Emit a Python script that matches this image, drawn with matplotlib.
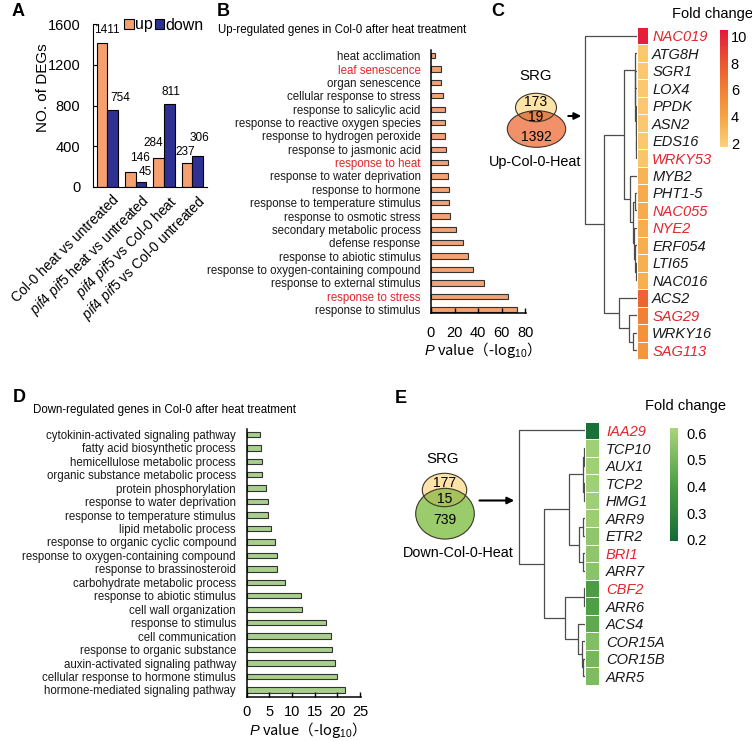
import numpy as np
import matplotlib
matplotlib.use('Agg')
import matplotlib.pyplot as plt
from matplotlib.patches import Ellipse
from matplotlib.colors import LinearSegmentedColormap, Normalize
from matplotlib.cm import ScalarMappable
from matplotlib.transforms import ScaledTranslation

plt.rcParams['font.family'] = ['Liberation Sans', 'DejaVu Sans']
plt.rcParams['mathtext.fontset'] = 'custom'
plt.rcParams['mathtext.rm'] = 'Liberation Sans'
plt.rcParams['mathtext.it'] = 'Liberation Sans:italic'

# ---- data ----
deg_groups = ['Col-0 heat vs untreated',
              r'$\it{pif4\ pif5}$ heat vs untreated',
              r'$\it{pif4\ pif5}$ vs Col-0 heat',
              r'$\it{pif4\ pif5}$ vs Col-0 untreated']
deg_up = [1411, 146, 284, 237]
deg_down = [754, 45, 811, 306]

up_terms = ['heat acclimation', 'leaf senescence', 'organ senescence',
            'cellular response to stress', 'response to salicylic acid',
            'response to reactive oxygen species', 'response to hydrogen peroxide',
            'response to jasmonic acid', 'response to heat',
            'response to water deprivation', 'response to hormone',
            'response to temperature stimulus', 'response to osmotic stress',
            'secondary metabolic process', 'defense response',
            'response to abiotic stimulus', 'response to oxygen-containing compound',
            'response to external stimulus', 'response to stress',
            'response to stimulus']
up_pvals = [3.4, 8.6, 8.6, 10, 11.8, 11.8, 12, 12.6, 14.6, 14.6, 15.5, 15.5,
            16, 21.5, 27, 31.5, 36, 45, 65.5, 73]
up_red = ['leaf senescence', 'response to heat', 'response to stress']

down_terms = ['cytokinin-activated signaling pathway', 'fatty acid biosynthetic process',
              'hemicellulose metabolic process', 'organic substance metabolic process',
              'protein phosphorylation', 'response to water deprivation',
              'response to temperature stimulus', 'lipid metabolic process',
              'response to organic cyclic compound', 'response to oxygen-containing compound',
              'response to brassinosteroid', 'carbohydrate metabolic process',
              'response to abiotic stimulus', 'cell wall organization',
              'response to stimulus', 'cell communication',
              'response to organic substance', 'auxin-activated signaling pathway',
              'cellular response to hormone stimulus', 'hormone-mediated signaling pathway']
down_pvals = [3.0, 3.2, 3.4, 3.4, 4.4, 4.7, 4.8, 5.3, 6.3, 6.7, 6.8, 8.5,
              11.9, 12.3, 17.4, 18.5, 18.9, 19.5, 19.9, 21.6]

c_genes = ['NAC019', 'ATG8H', 'SGR1', 'LOX4', 'PPDK', 'ASN2', 'EDS16', 'WRKY53',
           'MYB2', 'PHT1-5', 'NAC055', 'NYE2', 'ERF054', 'LTI65', 'NAC016',
           'ACS2', 'SAG29', 'WRKY16', 'SAG113']
c_fold = [10.2, 2.2, 2.2, 2.2, 2.2, 2.2, 2.2, 2.3, 3.2, 3.6, 3.6, 3.5, 3.5, 3.4,
          3.4, 7.4, 5.9, 5.0, 4.8]
c_red = ['NAC019', 'WRKY53', 'NAC055', 'NYE2', 'SAG29', 'SAG113']
# clustering tree: (height, left, right), leaves are row indices
c_tree = (1.0, 0,
          (0.63,
           (0.25,
            (0.04, 1, (0.035, 2, (0.03, 3, (0.025, 4, (0.02, 5, (0.015, 6, 7)))))),
            (0.14, 8, (0.08, (0.03, 9, 10), (0.06, 11, (0.04, 12, (0.02, 13, 14)))))),
           (0.35, 15, (0.16, 16, (0.08, 17, 18)))))

e_genes = ['IAA29', 'TCP10', 'AUX1', 'TCP2', 'HMG1', 'ARR9', 'ETR2', 'BRI1',
           'ARR7', 'CBF2', 'ARR6', 'ACS4', 'COR15A', 'COR15B', 'ARR5']
e_fold = [0.22, 0.6, 0.6, 0.6, 0.6, 0.59, 0.56, 0.56, 0.55, 0.40, 0.41, 0.45,
          0.53, 0.50, 0.52]
e_red = ['IAA29', 'BRI1', 'CBF2']
e_tree = (1.0, 0,
          (0.62,
           (0.24, (0.03, (0.02, 1, 2), (0.02, 3, 4)), (0.09, (0.03, 5, 6), (0.03, 7, 8))),
           (0.30, (0.02, 9, 10), (0.11, 11, (0.05, 12, (0.03, 13, 14))))))

venn_up = [173, 19, 1392]
venn_down = [177, 15, 739]

RED = '#E3242B'
W, H = 752, 741


def rect(x0, y0, x1, y1):
    # pixel box (top-left origin) -> figure fraction
    return [x0 / W, 1 - y1 / H, (x1 - x0) / W, (y1 - y0) / H]


def draw_tree(ax, node):
    if isinstance(node, int):
        return node + 0.5, 0.0
    h, a, b = node
    pa, ha = draw_tree(ax, a)
    pb, hb = draw_tree(ax, b)
    ax.plot([ha, h, h, hb], [pa, pa, pb, pb], color='#4d4d4d', lw=0.9,
            solid_capstyle='butt', clip_on=False)
    return (pa + pb) / 2, h


def venn(ax, top, bot, cols, counts, count_pos):
    b = Ellipse(bot[:2], bot[2], bot[3], fc=cols[2], ec='none')
    t = Ellipse(top[:2], top[2], top[3], fc=cols[0], ec='none')
    i = Ellipse(top[:2], top[2], top[3], fc=cols[1], ec='none')
    for p in (b, t, i):
        ax.add_patch(p)
    i.set_clip_path(b)
    ax.add_patch(Ellipse(bot[:2], bot[2], bot[3], fc='none', ec='#3d3526', lw=0.8))
    ax.add_patch(Ellipse(top[:2], top[2], top[3], fc='none', ec='#3d3526', lw=0.8))
    for c, (x, y) in zip(counts, count_pos):
        ax.text(x, y, str(c), ha='center', va='center', fontsize=10)


def go_panel(ax, terms, vals, color, red, xmax, xticks, ylim, xpad):
    pos = np.arange(len(terms))
    ax.barh(pos, vals, height=0.4, color=color, edgecolor='#333333', lw=0.8)
    ax.set_ylim(*ylim)
    ax.set_xlim(0, xmax)
    ax.set_yticks(pos)
    ax.set_yticklabels(terms)
    for lab in ax.get_yticklabels():
        lab.set_color(RED if lab.get_text() in red else '#1a1a1a')
    ax.tick_params(axis='y', length=0, pad=7.5, labelsize=8.3)
    ax.set_xticks(xticks)
    ax.tick_params(axis='x', direction='in', length=3.5, width=1, pad=xpad, labelsize=10.5)
    for s in ['top', 'right']:
        ax.spines[s].set_visible(False)
    for s in ['left', 'bottom']:
        ax.spines[s].set_linewidth(1.1)
    ax.set_xlabel(r'$\it{P}$ value（-log$_{10}$）', fontsize=10.5,
                  fontfamily='Noto Sans CJK SC')
    ax.xaxis.label.set_va('center')


def heat_panel(fig, dend_box, heat_box, cbar_box, genes, fold, red, tree, cmap, norm,
               cticks, label_pad, cbar_pad):
    n = len(genes)
    axd = fig.add_axes(rect(*dend_box))
    axd.axis('off')
    axd.set_xlim(1.0, 0)
    axd.set_ylim(n, 0)
    draw_tree(axd, tree)
    axh = fig.add_axes(rect(*heat_box))
    axh.pcolormesh(np.array(fold)[:, None], cmap=cmap, norm=norm,
                   edgecolors='white', linewidth=0.6)
    axh.set_ylim(n, 0)
    axh.set_xticks([])
    axh.set_yticks(np.arange(n) + 0.5)
    axh.set_yticklabels(genes, fontstyle='italic', fontsize=10.5)
    axh.yaxis.tick_right()
    axh.tick_params(axis='y', length=0, pad=label_pad)
    for lab in axh.get_yticklabels():
        lab.set_color(RED if lab.get_text() in red else '#1a1a1a')
    for s in axh.spines.values():
        s.set_visible(False)
    cax = fig.add_axes(rect(*cbar_box))
    cb = fig.colorbar(ScalarMappable(norm=norm, cmap=cmap), cax=cax, ticks=cticks)
    cb.outline.set_visible(False)
    cax.tick_params(length=0, pad=cbar_pad, labelsize=10.5)


fig = plt.figure(figsize=(7.52, 7.41), dpi=100)

# overlay (on top) for letters, venn diagrams, arrows
ov = fig.add_axes([0, 0, 1, 1], zorder=10)
ov.set_xlim(0, W)
ov.set_ylim(H, 0)
ov.axis('off')
for letter, (x, y) in zip('ABCDE', [(18.5, 12), (223.5, 11), (498, 11), (19, 397), (400.5, 398.5)]):
    ov.text(x, y, letter, fontsize=13, fontweight='bold', ha='center', va='center')

# ---- A ----
axA = fig.add_axes(rect(93, 24, 207, 187))
x = np.arange(len(deg_groups))
w = 0.375
b_up = axA.bar(x - w / 2, deg_up, w, color='#F5A06E', edgecolor='black', lw=0.8, label='up')
b_dn = axA.bar(x + w / 2, deg_down, w, color='#2E3192', edgecolor='black', lw=0.8, label='down')
axA.set_xlim(-0.5, 3.52)
axA.set_ylim(0, 1600)
axA.set_yticks(range(0, 1601, 400))
axA.tick_params(axis='y', direction='in', length=3, pad=9, labelsize=10.5)
axA.tick_params(axis='x', length=0, pad=4)
axA.set_xticks(x)
axA.set_xticklabels(deg_groups, rotation=45, ha='right', va='top',
                    rotation_mode='anchor', fontsize=10)
for lab in axA.get_xticklabels():
    lab.set_transform(lab.get_transform() + ScaledTranslation(0.045, 0, fig.dpi_scale_trans))
for s in ['top', 'right']:
    axA.spines[s].set_visible(False)
axA.set_ylabel('NO. of DEGs', fontsize=11)
axA.yaxis.set_label_coords(-0.38, (187 - 88) / 163)
up_off = [(4.5, 13), (9.7, 14), (-5, 15), (-1.5, 11)]
dn_off = [(7.5, 12), (4, 10), (1.5, 12), (2, 18)]
for bars, offs in ((b_up, up_off), (b_dn, dn_off)):
    for bar, (dx, dy) in zip(bars, offs):
        axA.annotate(str(int(bar.get_height())),
                     (bar.get_x() + bar.get_width() / 2, bar.get_height()),
                     xytext=(dx * 0.72, dy * 0.72), textcoords='offset points',
                     ha='center', va='center', fontsize=8.5)
fig.legend(handles=[b_up, b_dn], labels=['up', 'down'], loc='center left',
           bbox_to_anchor=(124 / W, 1 - 25 / H), ncol=2, frameon=False,
           fontsize=11.5, handlelength=0.6, handleheight=0.6, handletextpad=0.1,
           columnspacing=0.1, borderpad=0, borderaxespad=0)

# ---- B ----
axB = fig.add_axes(rect(431, 50, 525.7, 313.3))
go_panel(axB, up_terms, up_pvals, '#F2A273', up_red, 80.5, [0, 20, 40, 60, 80],
         (len(up_terms) - 1 + 0.28, -0.43), 9)
axB.xaxis.set_label_coords(0.5, (313.3 - 350) / 263.3)
ov.text(218, 30, 'Up-regulated genes in Col-0 after heat treatment', fontsize=8.3,
        ha='left', va='center')

# ---- D ----
axD = fig.add_axes(rect(246.5, 429, 361, 696.7))
go_panel(axD, down_terms, down_pvals, '#A9CF8C', [], 25.2, [0, 5, 10, 15, 20, 25],
         (len(down_terms) - 0.5, -0.4), 6)
axD.xaxis.set_label_coords(0.5, (696.7 - 730) / 267.7)
ov.text(33, 410, 'Down-regulated genes in Col-0 after heat treatment', fontsize=8.3,
        ha='left', va='center')

# ---- C ----
cmap_c = LinearSegmentedColormap.from_list(
    'fc_up', ['#FAD27A', '#F5A646', '#F07E33', '#EA5230', '#E3183C'])
heat_panel(fig, (585, 27, 637, 359), (636.5, 27, 648, 359), (720, 30, 728, 147),
           c_genes, c_fold, c_red, c_tree, cmap_c, Normalize(1.7, 10.5),
           [2, 4, 6, 8, 10], 3, 2)
ov.text(672, 14, 'Fold change', fontsize=10.5, ha='left', va='center')
venn(ov, (536, 107.5, 41, 28.4), (536.5, 129, 58.4, 36.6),
     ['#FDE3A7', '#E2844E', '#F2906A'], venn_up,
     [(536, 101.7), (536, 116.7), (536, 137.3)])
ov.text(536, 76, 'SRG', fontsize=10.8, ha='center', va='center')
ov.text(581, 161.7, 'Up-Col-0-Heat', fontsize=10.4, ha='right', va='center')
ov.annotate('', xy=(584, 116), xytext=(565.5, 116),
            arrowprops=dict(arrowstyle='-|>', color='black', lw=1.5, mutation_scale=10))

# ---- E ----
cmap_e = LinearSegmentedColormap.from_list('fc_down', ['#136B35', '#4E9E45', '#A9D57A'])
heat_panel(fig, (519.3, 421.7, 585, 685), (585, 421.7, 599, 685), (670, 428, 677.7, 541),
           e_genes, e_fold, e_red, e_tree, cmap_e, Normalize(0.195, 0.62),
           [0.2, 0.3, 0.4, 0.5, 0.6], 5, 6)
ov.text(645, 406, 'Fold change', fontsize=10.5, ha='left', va='center')
venn(ov, (444.5, 490, 44.4, 33.4), (445, 513.7, 58.6, 50.7),
     ['#FDE3A7', '#A6C25E', '#9ACC6C'], venn_down,
     [(444.5, 482.7), (444.5, 499.3), (444.5, 520.5)])
ov.text(442.3, 459, 'SRG', fontsize=10.8, ha='center', va='center')
ov.text(403, 553, 'Down-Col-0-Heat', fontsize=10.4, ha='left', va='center')
ov.annotate('', xy=(517, 500.5), xytext=(476.7, 500.5),
            arrowprops=dict(arrowstyle='-|>', color='black', lw=1.5, mutation_scale=10))

fig.savefig('out.png', dpi=100)
